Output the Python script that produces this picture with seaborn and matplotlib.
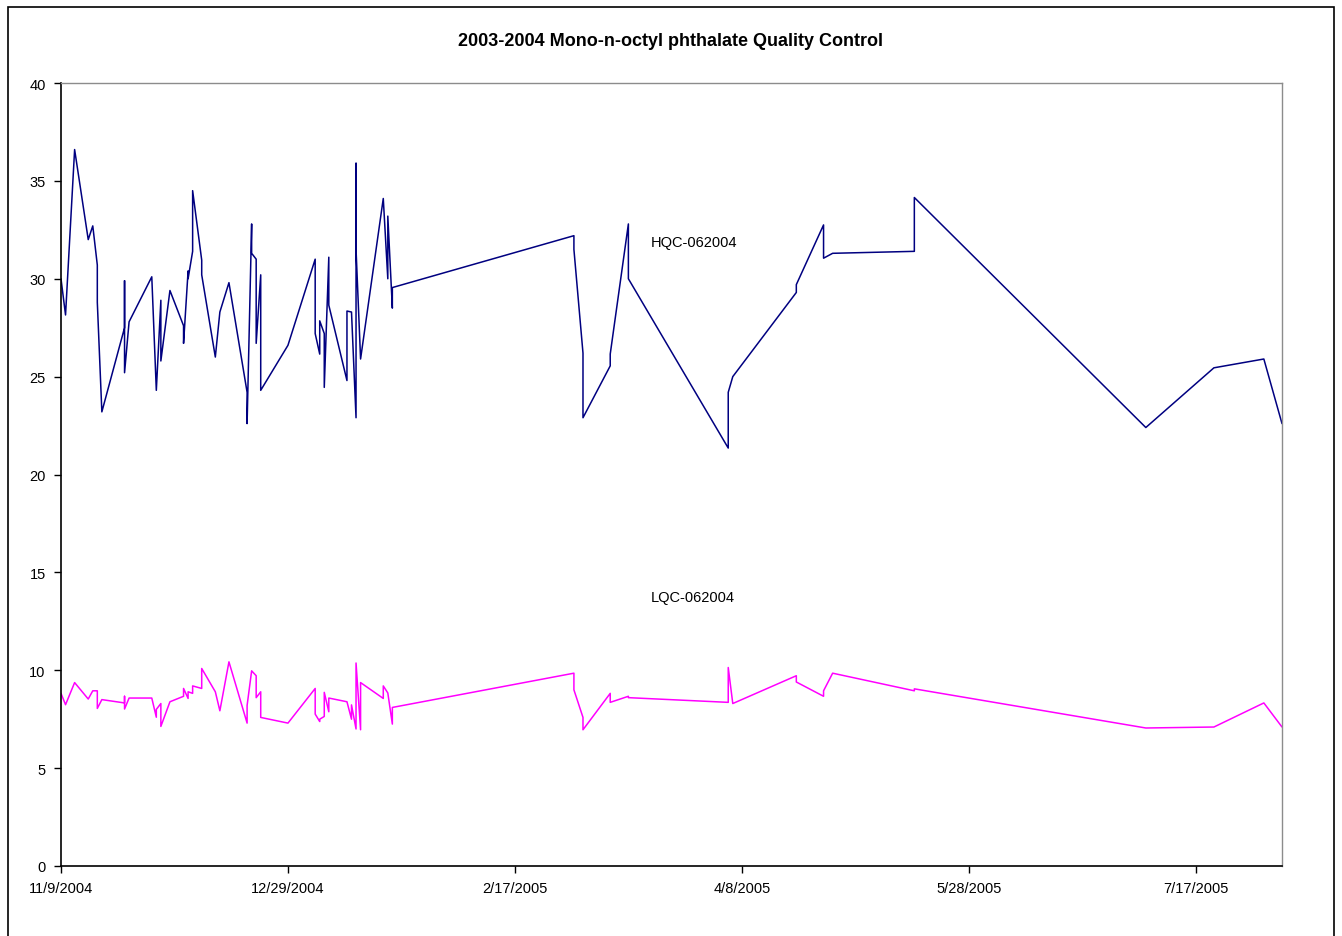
"""
2003-2004 Mono-n-octyl phthalate QC chart (HQC / LQC over run date).
"""
import matplotlib
matplotlib.use("Agg")
import matplotlib.pyplot as plt
import matplotlib.patches as mpatches
import pandas as pd
import seaborn as sns

START = pd.Timestamp("2004-11-09")

# days after 11/9/2004
hqc_days = [0, 1, 3, 6, 7, 8, 8, 9, 14, 14, 14, 15, 20, 21, 22, 22, 24, 27, 27,
            28, 28, 29, 29, 31, 31, 34, 35, 37, 41, 41, 42, 42, 43, 43, 44, 44,
            50, 56, 56, 57, 57, 58, 58, 59, 59, 63, 63, 64, 65, 65, 65, 66,
            71, 72, 72, 73, 73, 113, 113, 115, 115, 121, 121, 125, 125,
            147, 147, 148, 162, 162, 168, 168, 170, 188, 188, 239, 254, 265, 269]
hqc_vals = [30.0, 28.15, 36.6, 32.0, 32.7, 30.7, 28.8, 23.2, 27.5, 29.9, 25.2, 27.8,
            30.1, 24.3, 28.9, 25.8, 29.4, 27.6, 26.7, 30.4, 30.0, 31.4, 34.5, 30.95,
            30.2, 26.0, 28.3, 29.8, 24.2, 22.6, 32.8, 31.3, 31.0, 26.7, 30.2, 24.3,
            26.6, 31.0, 27.2, 26.15, 27.85, 27.2, 24.45, 31.1, 28.65, 24.8, 28.35,
            28.3, 22.9, 35.9, 31.5, 25.9, 34.1, 30.0, 33.2, 28.5, 29.55, 32.2, 31.5,
            26.2, 22.9, 25.55, 26.15, 32.8, 30.0, 21.35, 24.2, 25.0, 29.3, 29.7,
            32.75, 31.05, 31.3, 31.4, 34.15, 22.4, 25.45, 25.9, 22.6]

lqc_days = [0, 1, 3, 6, 7, 8, 8, 9, 14, 14, 14, 15, 20, 21, 21, 22, 22, 24, 27, 27,
            28, 28, 29, 29, 31, 31, 34, 35, 37, 41, 41, 42, 43, 43, 44, 44, 50,
            56, 56, 57, 57, 58, 58, 59, 59, 63, 64, 64, 65, 65, 66, 66, 71, 71,
            72, 73, 73, 113, 113, 115, 115, 121, 121, 125, 125, 147, 147, 148,
            162, 162, 168, 168, 170, 188, 188, 239, 254, 265, 269]
lqc_vals = [8.82, 8.24, 9.37, 8.53, 8.95, 8.95, 8.05, 8.5, 8.33, 8.67, 8.02, 8.58,
            8.58, 7.6, 8.0, 8.3, 7.13, 8.39, 8.67, 9.07, 8.56, 8.9, 8.82, 9.2, 9.07,
            10.09, 8.9, 7.93, 10.43, 7.3, 8.2, 9.97, 9.72, 8.6, 8.9, 7.59, 7.3, 9.07,
            7.76, 7.38, 7.5, 7.64, 8.87, 7.88, 8.58, 8.39, 7.5, 8.23, 7.0, 10.37,
            6.96, 9.37, 8.56, 9.2, 8.84, 7.25, 8.1, 9.85, 9.0, 7.59, 6.96, 8.82,
            8.36, 8.67, 8.6, 8.36, 10.14, 8.3, 9.72, 9.4, 8.67, 8.95, 9.85, 8.95,
            9.05, 7.05, 7.1, 8.33, 7.1]

series_names = ["HQC-062004", "LQC-062004"]
series_colors = ["#000080", "#FF00FF"]
y_ticks = [0, 5, 10, 15, 20, 25, 30, 35, 40]
x_tick_days = [0, 50, 100, 150, 200, 250]
x_end_day = 269

sns.set_style("white")
plt.rcParams["font.family"] = ["Liberation Sans", "DejaVu Sans"]
plt.rcParams["text.color"] = "black"

fig = plt.figure(figsize=(13.42, 9.37), dpi=100)
ax = fig.add_axes([61 / 1342, 1 - 867 / 937, (1282 - 61) / 1342, (867 - 84) / 937])

for days, vals, color in zip([hqc_days, lqc_days], [hqc_vals, lqc_vals], series_colors):
    df = pd.DataFrame({"date": START + pd.to_timedelta(days, unit="D"), "value": vals})
    sns.lineplot(data=df, x="date", y="value", estimator=None, sort=False,
                 color=color, linewidth=1.1, ax=ax)

ax.set_ylim(0, 40)
ax.set_yticks(y_ticks)
ax.set_xlim(START, START + pd.Timedelta(days=x_end_day))
tick_dates = [START + pd.Timedelta(days=d) for d in x_tick_days]
ax.set_xticks(tick_dates)
ax.set_xticklabels([f"{d.month}/{d.day}/{d.year}" for d in tick_dates])
ax.set_xlabel("")
ax.set_ylabel("")
ax.tick_params(axis="both", direction="out", length=5, width=1, colors="black",
               labelsize=10.5, bottom=True, left=True, pad=6)

for side in ["left", "bottom"]:
    ax.spines[side].set_color("black")
    ax.spines[side].set_linewidth(1.2)
for side in ["top", "right"]:
    ax.spines[side].set_color("#8c8c8c")
    ax.spines[side].set_linewidth(1.0)

# series labels placed on the chart
ax.text(START + pd.Timedelta(days=130), 31.9, series_names[0], fontsize=10.5,
        va="center", ha="left", color="black")
ax.text(START + pd.Timedelta(days=130), 13.75, series_names[1], fontsize=10.5,
        va="center", ha="left", color="black")

fig.text(0.5, 1 - 41 / 937, "2003-2004 Mono-n-octyl phthalate Quality Control",
         ha="center", va="center", fontsize=13, fontweight="bold", color="black")

# outer chart frame
fig.patches.append(mpatches.Rectangle((8 / 1342, -0.01), (1334 - 8) / 1342, 1 - 8 / 937 + 0.01,
                                      transform=fig.transFigure, fill=False,
                                      edgecolor="black", linewidth=1.2))

fig.savefig("out.png", dpi=100)
plt.close(fig)
